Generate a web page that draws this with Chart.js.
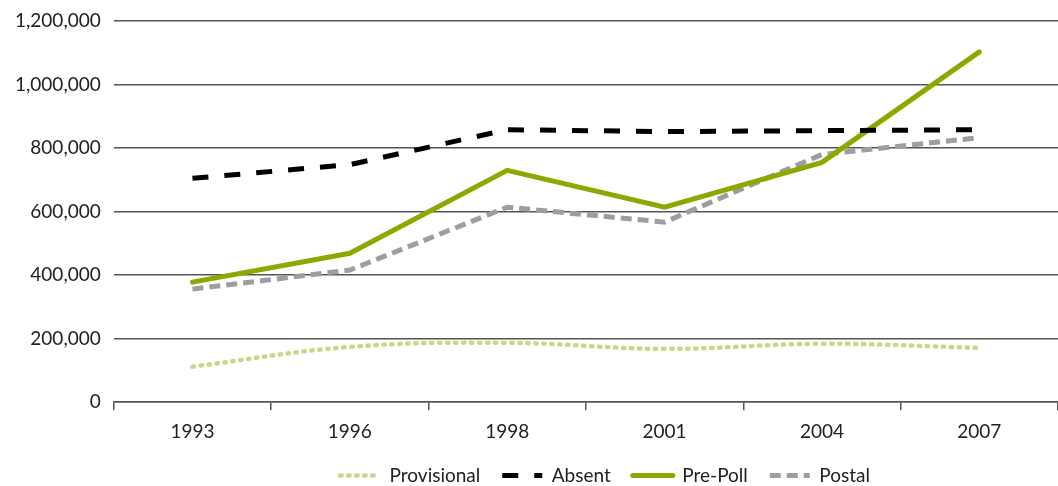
<!DOCTYPE html>
<html>
<head>
<meta charset="utf-8">
<script src="https://cdn.jsdelivr.net/npm/chart.js@4"></script>
<style>
  html, body { margin: 0; padding: 0; background: #fff; }
  #wrap { width: 1058px; height: 486px; }
</style>
</head>
<body>
<div id="wrap"><canvas id="votosChart" width="1058" height="486"></canvas></div>
<script>
const years = ['1993', '1996', '1998', '2001', '2004', '2007'];
const provisional = [112000, 174000, 187000, 168000, 184000, 171000];
const absent = [705000, 748000, 858000, 852000, 855000, 858000];
const prePoll = [378000, 469000, 730000, 614000, 755000, 1103000];
const postal = [356000, 416000, 614000, 567000, 780000, 833000];
const yTicks = [0, 200000, 400000, 600000, 800000, 1000000, 1200000];

const fuente = "Lato, 'Noto Sans', sans-serif";
const gris = '#555';

const series = [
  { label: 'Provisional', data: provisional, borderColor: '#c8d888', borderWidth: 4.5, borderDash: [1.5, 6.5], borderCapStyle: 'round', tension: 0.4 },
  { label: 'Absent', data: absent, borderColor: '#000', borderWidth: 5, borderDash: [16, 16], borderCapStyle: 'butt', tension: 0 },
  { label: 'Pre-Poll', data: prePoll, borderColor: '#8da800', borderWidth: 5, borderDash: [], borderCapStyle: 'round', tension: 0 },
  { label: 'Postal', data: postal, borderColor: '#9d9ea1', borderWidth: 5, borderDash: [11, 6], borderCapStyle: 'butt', tension: 0 }
];

// la leyenda del original queda centrada bajo el área del gráfico, no bajo el lienzo
const leyendaDesplazada = {
  id: 'leyendaDesplazada',
  afterLayout(chart) {
    if (chart.legend) chart.legend.left += 150;
  }
};

new Chart(document.getElementById('votosChart'), {
  type: 'line',
  data: {
    labels: years,
    datasets: series.map((s) => ({ ...s, fill: false, pointRadius: 0, pointHoverRadius: 0 }))
  },
  plugins: [leyendaDesplazada],
  options: {
    responsive: false,
    animation: false,
    layout: { padding: { top: 2, left: 2, right: 0, bottom: -9 } },
    plugins: {
      tooltip: { enabled: false },
      legend: {
        position: 'bottom',
        labels: {
          usePointStyle: true,
          pointStyle: 'line',
          pointStyleWidth: 40,
          padding: 22,
          color: '#222',
          font: { family: fuente, size: 19 },
          generateLabels: (chart) => chart.data.datasets.map((d, i) => ({
            text: d.label,
            datasetIndex: i,
            strokeStyle: d.borderColor,
            fillStyle: d.borderColor,
            lineWidth: d.borderWidth,
            lineDash: d.borderDash,
            lineCap: d.borderCapStyle,
            pointStyle: 'line',
            fontColor: '#222',
            hidden: false
          }))
        }
      }
    },
    scales: {
      x: {
        offset: true,
        afterFit: (scale) => { scale.height -= 9; },
        grid: { offset: true, drawOnChartArea: false, drawTicks: true, tickLength: 8, color: gris, lineWidth: 1.5 },
        border: { display: true, color: gris, width: 1.5 },
        ticks: { color: '#222', font: { family: fuente, size: 19 }, padding: 10 }
      },
      y: {
        min: 0,
        max: 1200000,
        afterBuildTicks: (axis) => { axis.ticks = yTicks.map((v) => ({ value: v })); },
        grid: { color: gris, lineWidth: 1.5, drawTicks: false },
        border: { display: false },
        ticks: {
          color: '#222',
          font: { family: fuente, size: 19, lineHeight: 0.85 },
          padding: 13,
          callback: (v) => Number(v).toLocaleString('en-US')
        }
      }
    }
  }
});
</script>
</body>
</html>
